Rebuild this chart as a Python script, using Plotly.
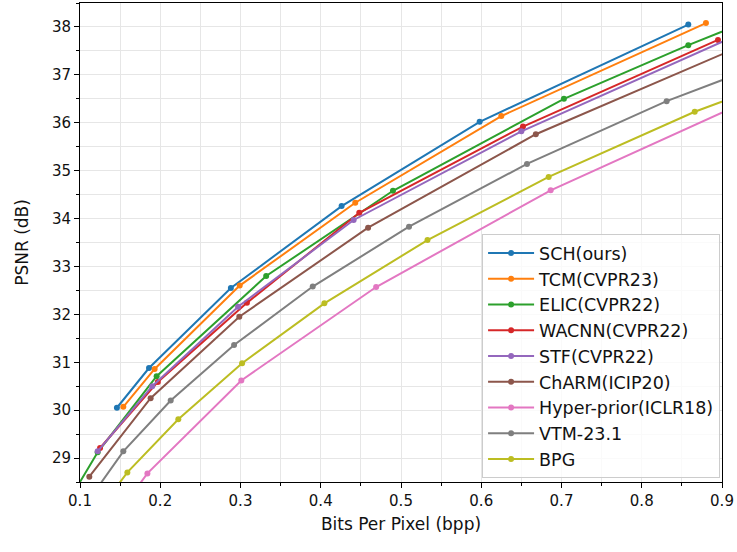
import plotly.graph_objects as go

names = ["SCH(ours)", "TCM(CVPR23)", "ELIC(CVPR22)", "WACNN(CVPR22)", "STF(CVPR22)",
         "ChARM(ICIP20)", "Hyper-prior(ICLR18)", "VTM-23.1", "BPG"]
colors = ["#1f77b4", "#ff7f0e", "#2ca02c", "#d62728", "#9467bd",
          "#8c564b", "#e377c2", "#7f7f7f", "#bcbd22"]

sch_x = [0.146, 0.186, 0.288, 0.426, 0.598, 0.858]
sch_y = [30.05, 30.88, 32.55, 34.26, 36.02, 38.05]
tcm_x = [0.154, 0.193, 0.299, 0.443, 0.625, 0.880]
tcm_y = [30.07, 30.86, 32.60, 34.33, 36.14, 38.08]
elic_x = [0.085, 0.122, 0.1955, 0.332, 0.490, 0.703, 0.858, 0.95]
elic_y = [28.08, 29.12, 30.71, 32.80, 34.58, 36.50, 37.62, 38.24]
wacnn_x = [0.125, 0.197, 0.308, 0.448, 0.652, 0.895]
wacnn_y = [29.21, 30.59, 32.24, 34.12, 35.92, 37.73]
stf_x = [0.122, 0.190, 0.297, 0.441, 0.650, 0.95]
stf_y = [29.14, 30.50, 32.16, 33.97, 35.82, 38.06]
charm_x = [0.1116, 0.188, 0.2985, 0.459, 0.668, 0.95]
charm_y = [28.61, 30.25, 31.95, 33.81, 35.76, 37.79]
hyper_x = [0.15, 0.184, 0.301, 0.469, 0.6865, 0.95]
hyper_y = [27.90, 28.68, 30.62, 32.57, 34.59, 36.59]
vtm_x = [0.11, 0.154, 0.213, 0.292, 0.390, 0.510, 0.657, 0.831, 0.95]
vtm_y = [28.10, 29.14, 30.20, 31.36, 32.58, 33.83, 35.14, 36.45, 37.21]
bpg_x = [0.13, 0.159, 0.2225, 0.302, 0.4045, 0.533, 0.684, 0.866, 0.95]
bpg_y = [28.05, 28.70, 29.81, 30.98, 32.23, 33.55, 34.87, 36.23, 36.75]

xs = [sch_x, tcm_x, elic_x, wacnn_x, stf_x, charm_x, hyper_x, vtm_x, bpg_x]
ys = [sch_y, tcm_y, elic_y, wacnn_y, stf_y, charm_y, hyper_y, vtm_y, bpg_y]

fig = go.Figure()
for n, c, x, y in zip(names, colors, xs, ys):
    fig.add_trace(go.Scatter(x=x, y=y, name=n, mode="lines+markers",
                             line=dict(color=c, width=2),
                             marker=dict(color=c, size=6),
                             legendgroup=n, cliponaxis=True))

font = "DejaVu Sans, sans-serif"
axis_common = dict(
    showline=True, linecolor="black", linewidth=1, mirror=True,
    ticks="outside", ticklen=5, tickcolor="black", tickwidth=1,
    showgrid=True, gridcolor="#e6e6e6", gridwidth=1, zeroline=False,
    tickfont=dict(family=font, size=15, color="#111"),
)
fig.update_xaxes(range=[0.1, 0.9], dtick=0.1, tick0=0.1,
                 minor=dict(dtick=0.05, ticks="outside", ticklen=3, tickcolor="black",
                            showgrid=True, gridcolor="#e6e6e6"),
                 title=dict(text="Bits Per Pixel (bpp)", font=dict(family=font, size=17, color="#111"), standoff=9),
                 **axis_common)
fig.update_yaxes(range=[28.5, 38.5], dtick=1, tick0=29,
                 minor=dict(dtick=0.5, ticks="outside", ticklen=3, tickcolor="black",
                            showgrid=True, gridcolor="#e6e6e6"),
                 title=dict(text="PSNR (dB)", font=dict(family=font, size=17, color="#111"), standoff=18),
                 **axis_common)

fig.update_layout(
    width=737, height=552,
    margin=dict(l=80, r=15, t=3, b=70),
    plot_bgcolor="white", paper_bgcolor="white",
    font=dict(family=font, color="#111"),
    legend=dict(x=0.997, y=0.008, xanchor="right", yanchor="bottom",
                bgcolor="rgba(255,255,255,0.8)", bordercolor="#cccccc", borderwidth=1,
                font=dict(family=font, size=17.5, color="#111"),
                tracegroupgap=0, itemwidth=46),
    showlegend=True,
)

fig.write_html("out.html")
